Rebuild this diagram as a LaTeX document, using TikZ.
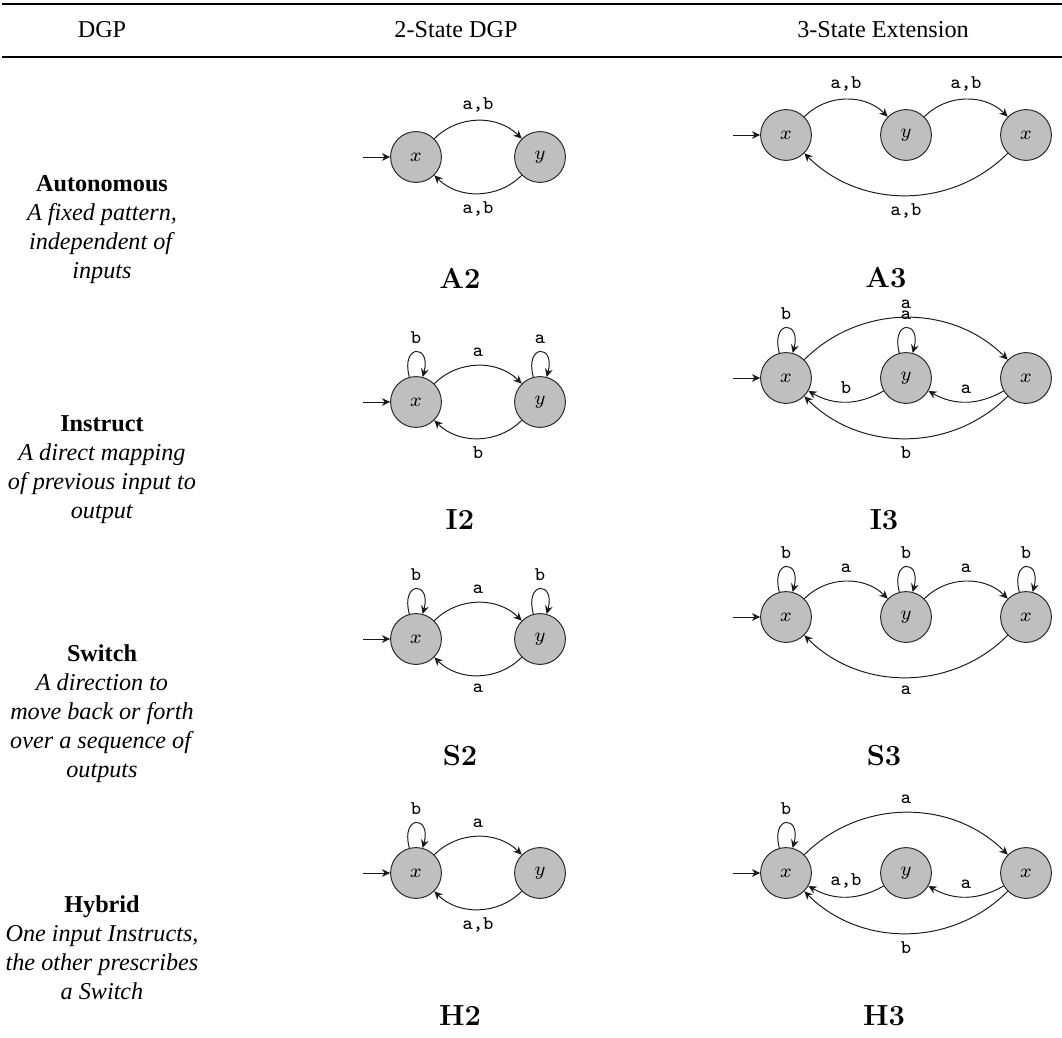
\documentclass[tikz,border=0pt]{standalone}
\usepackage{fontspec}
\usepackage{tikz}
\usetikzlibrary{arrows.meta}
\newfontfamily\tabfont{Liberation Serif}

\begin{document}
\begin{tikzpicture}[
  x=0.4132pt, y=-0.4132pt,
  >={Stealth[length=3.4pt,width=3.2pt]},
  st/.style={circle, draw=black!85, fill=black!25, minimum size=21pt,
             inner sep=0pt, font=\footnotesize},
  arr/.style={->, draw=black!90},
  lbl/.style={font=\footnotesize\ttfamily},
  hd/.style={font=\tabfont\fontsize{10}{12}\selectfont},
  desc/.style={align=center, font=\tabfont\fontsize{10}{12}\selectfont},
  capt/.style={font=\large\bfseries},
  every loop/.style={looseness=6}
]
\useasboundingbox (0,0) rectangle (1062,1038);

% Header
\draw[line width=0.8pt] (2,4) -- (1062,4);
\draw[line width=0.6pt] (2,57) -- (1062,57);
\node[hd] (h1) at (102,30) {DGP};
\node[hd] (h2) at (456,30) {2-State DGP};
\node[hd] (h3) at (883,30) {3-State Extension};

% Row descriptions
\node[desc] (dA) at (102,230) {\textbf{Autonomous}\\\textit{A fixed pattern,}\\\textit{independent of}\\\textit{inputs}};
\node[desc] (dI) at (102,470) {\textbf{Instruct}\\\textit{A direct mapping}\\\textit{of previous input to}\\\textit{output}};
\node[desc] (dS) at (102,714) {\textbf{Switch}\\\textit{A direction to}\\\textit{move back or forth}\\\textit{over a sequence of}\\\textit{outputs}};
\node[desc] (dH) at (102,948) {\textbf{Hybrid}\\\textit{One input Instructs,}\\\textit{the other prescribes}\\\textit{a Switch}};

% A2
\node[st] (a2x) at (416,157) {$x$};
\node[st] (a2y) at (540,157) {$y$};
\coordinate (a2in) at (363,157);
\draw[arr] (a2in) -- (a2x);
\draw[arr] (a2x) to[bend left=45] node[lbl,above] {a,b} (a2y);
\draw[arr] (a2y) to[bend left=45] node[lbl,below] {a,b} (a2x);
\node[capt] (A2) at (460,278) {A2};

% A3
\node[st] (a3x) at (786,135) {$x$};
\node[st] (a3y) at (906,135) {$y$};
\node[st] (a3z) at (1026,135) {$x$};
\coordinate (a3in) at (733,135);
\draw[arr] (a3in) -- (a3x);
\draw[arr] (a3x) to[bend left=45] node[lbl,above] {a,b} (a3y);
\draw[arr] (a3y) to[bend left=45] node[lbl,above] {a,b} (a3z);
\draw[arr] (a3z) to[bend left=45] node[lbl,below] {a,b} (a3x);
\node[capt] (A3) at (886,278) {A3};

% I2
\node[st] (i2x) at (416,402) {$x$};
\node[st] (i2y) at (540,402) {$y$};
\coordinate (i2in) at (363,402);
\draw[arr] (i2in) -- (i2x);
\draw[arr] (i2x) to[loop above] node[lbl,above] {b} (i2x);
\draw[arr] (i2y) to[loop above] node[lbl,above] {a} (i2y);
\draw[arr] (i2x) to[bend left=45] node[lbl,above] {a} (i2y);
\draw[arr] (i2y) to[bend left=45] node[lbl,below] {b} (i2x);
\node[capt] (I2) at (460,520) {I2};

% I3
\node[st] (i3x) at (786,378) {$x$};
\node[st] (i3y) at (906,378) {$y$};
\node[st] (i3z) at (1026,378) {$x$};
\coordinate (i3in) at (733,378);
\draw[arr] (i3in) -- (i3x);
\draw[arr] (i3x) to[loop above] node[lbl,above] {b} (i3x);
\draw[arr] (i3y) to[loop above] node[lbl,above] {a} (i3y);
\draw[arr] (i3x) to[bend left=45] node[lbl,above] {a} (i3z);
\draw[arr] (i3y) to[bend left] node[lbl,above] {b} (i3x);
\draw[arr] (i3z) to[bend left] node[lbl,above] {a} (i3y);
\draw[arr] (i3z) to[bend left=45] node[lbl,below] {b} (i3x);
\node[capt] (I3) at (884,520) {I3};

% S2
\node[st] (s2x) at (416,639) {$x$};
\node[st] (s2y) at (540,639) {$y$};
\coordinate (s2in) at (363,639);
\draw[arr] (s2in) -- (s2x);
\draw[arr] (s2x) to[loop above] node[lbl,above] {b} (s2x);
\draw[arr] (s2y) to[loop above] node[lbl,above] {b} (s2y);
\draw[arr] (s2x) to[bend left=45] node[lbl,above] {a} (s2y);
\draw[arr] (s2y) to[bend left=45] node[lbl,below] {a} (s2x);
\node[capt] (S2) at (460,756) {S2};

% S3
\node[st] (s3x) at (786,617) {$x$};
\node[st] (s3y) at (906,617) {$y$};
\node[st] (s3z) at (1026,617) {$x$};
\coordinate (s3in) at (733,617);
\draw[arr] (s3in) -- (s3x);
\draw[arr] (s3x) to[loop above] node[lbl,above] {b} (s3x);
\draw[arr] (s3y) to[loop above] node[lbl,above] {b} (s3y);
\draw[arr] (s3z) to[loop above] node[lbl,above] {b} (s3z);
\draw[arr] (s3x) to[bend left=45] node[lbl,above] {a} (s3y);
\draw[arr] (s3y) to[bend left=45] node[lbl,above] {a} (s3z);
\draw[arr] (s3z) to[bend left=45] node[lbl,below] {a} (s3x);
\node[capt] (S3) at (884,756) {S3};

% H2
\node[st] (h2x) at (416,873) {$x$};
\node[st] (h2y) at (540,873) {$y$};
\coordinate (h2in) at (363,873);
\draw[arr] (h2in) -- (h2x);
\draw[arr] (h2x) to[loop above] node[lbl,above] {b} (h2x);
\draw[arr] (h2x) to[bend left=45] node[lbl,above] {a} (h2y);
\draw[arr] (h2y) to[bend left=45] node[lbl,below] {a,b} (h2x);
\node[capt] (H2) at (460,1016) {H2};

% H3
\node[st] (h3x) at (786,873) {$x$};
\node[st] (h3y) at (906,873) {$y$};
\node[st] (h3z) at (1026,873) {$x$};
\coordinate (h3in) at (733,873);
\draw[arr] (h3in) -- (h3x);
\draw[arr] (h3x) to[loop above] node[lbl,above] {b} (h3x);
\draw[arr] (h3x) to[bend left=45] node[lbl,above] {a} (h3z);
\draw[arr] (h3y) to[bend left] node[lbl,above] {a,b} (h3x);
\draw[arr] (h3z) to[bend left] node[lbl,above] {a} (h3y);
\draw[arr] (h3z) to[bend left=45] node[lbl,below] {b} (h3x);
\node[capt] (H3) at (884,1016) {H3};

\end{tikzpicture}
\end{document}
